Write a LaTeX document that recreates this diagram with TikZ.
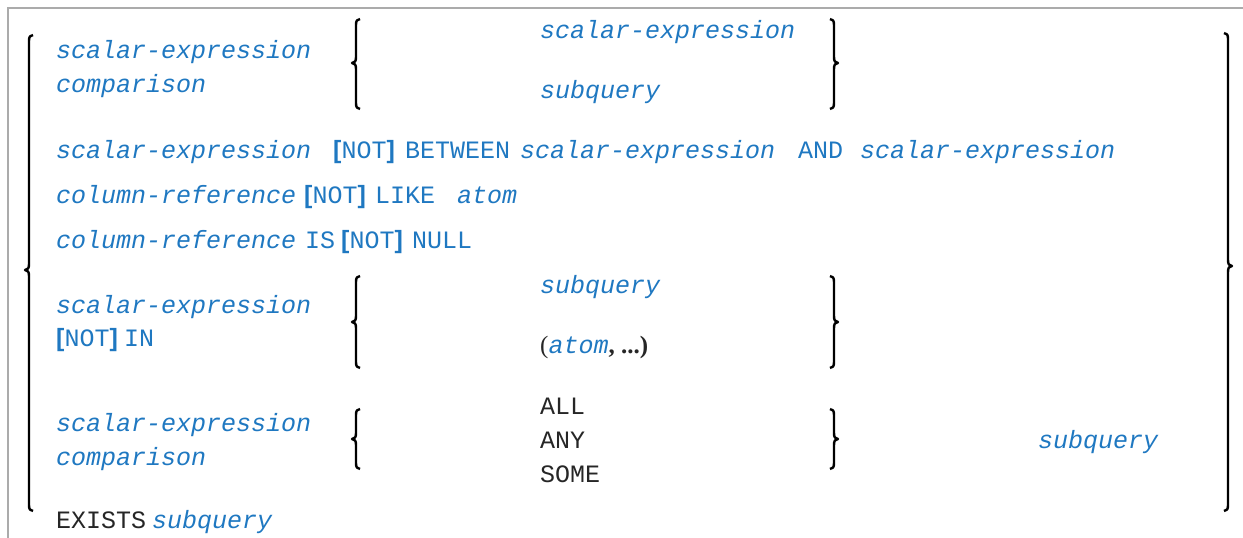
\documentclass[tikz,border=0pt]{standalone}
\usepackage{fontspec}
\setmonofont{Liberation Mono}
\newfontfamily\pncfont{Liberation Serif}
\newfontfamily\brkfont{Liberation Sans}
\definecolor{synblue}{HTML}{1F78C1}
\definecolor{framegray}{HTML}{ABABAB}
\definecolor{litgray}{HTML}{262626}
\newcommand{\synsize}{\fontsize{25}{30}\selectfont}
\newcommand{\nb}[1]{{\brkfont\bfseries #1}}
% tall braces: x, top, cusp, bottom
\newcommand{\synlbrace}[4]{%
  \draw[brc] ({#1+4},#2) .. controls ({#1+1},#2) and (#1,{#2+2}) .. (#1,{#2+6})
    -- (#1,{#3-6}) .. controls (#1,{#3-2}) and ({#1-1},#3) .. ({#1-4},#3)
    .. controls ({#1-1},#3) and (#1,{#3+2}) .. (#1,{#3+6})
    -- (#1,{#4-6}) .. controls (#1,{#4-2}) and ({#1+1},#4) .. ({#1+4},#4);}
\newcommand{\synrbrace}[4]{%
  \draw[brc] ({#1-4},#2) .. controls ({#1-1},#2) and (#1,{#2+2}) .. (#1,{#2+6})
    -- (#1,{#3-6}) .. controls (#1,{#3-2}) and ({#1+1},#3) .. ({#1+4},#3)
    .. controls ({#1+1},#3) and (#1,{#3+2}) .. (#1,{#3+6})
    -- (#1,{#4-6}) .. controls (#1,{#4-2}) and ({#1-1},#4) .. ({#1-4},#4);}

\begin{document}
\begin{tikzpicture}[x=1pt, y=-1pt,
    every node/.style={anchor=mid west, inner sep=0pt, yshift=-6pt, font=\synsize\ttfamily},
    syn/.style={text=synblue, font=\synsize\ttfamily\itshape},
    kw/.style={text=synblue},
    lit/.style={text=litgray},
    brc/.style={line width=2.4pt, line join=round}]
    \useasboundingbox (0,0) rectangle (1243,538);
    \draw[framegray, line width=2pt] (8,538) -- (8,8) -- (1243,8);

    % outer braces
    \synlbrace{29}{35}{270}{511}
    \synrbrace{1228}{33}{266}{511}

    % comparison with subquery
    \node[syn] (se1) at (56,50) {scalar-expression};
    \node[syn] (cmp1) at (56,84) {comparison};
    \synlbrace{356}{19}{63}{109}
    \node[syn] (se2) at (540,30) {scalar-expression};
    \node[syn] (sq1) at (540,90) {subquery};
    \synrbrace{834}{19}{63}{109}

    % between
    \node[syn] (se3) at (56,150) {scalar-expression};
    \node[kw] (not1) at (333,150) {\nb{[}NOT\nb{]}};
    \node[kw] (betw) at (405,150) {BETWEEN};
    \node[syn] (se4) at (520,150) {scalar-expression};
    \node[kw] (and1) at (798,150) {AND};
    \node[syn] (se5) at (860,150) {scalar-expression};

    % like
    \node[syn] (cr1) at (56,195) {column-reference};
    \node[kw] (not2) at (304,195) {\nb{[}NOT\nb{]}};
    \node[kw] (like) at (375,195) {LIKE};
    \node[syn] (atom1) at (457,195) {atom};

    % null
    \node[syn] (cr2) at (56,240) {column-reference};
    \node[kw] (is) at (305,240) {IS};
    \node[kw] (not3) at (341,240) {\nb{[}NOT\nb{]}};
    \node[kw] (null) at (412,240) {NULL};

    % in
    \node[syn] (se6) at (56,305) {scalar-expression};
    \node[kw] (not4) at (56,338) {\nb{[}NOT\nb{]}};
    \node[kw] (in) at (124,338) {IN};
    \synlbrace{356}{276}{322}{368}
    \node[syn] (sq2) at (540,285) {subquery};
    \node[lit] (atoms) at (540,345) {{\pncfont(}{\color{synblue}\itshape atom}{\pncfont\bfseries, ...)}};
    \synrbrace{834}{276}{322}{368}

    % quantified
    \node[syn] (se7) at (56,423) {scalar-expression};
    \node[syn] (cmp2) at (56,457) {comparison};
    \synlbrace{356}{409}{439}{469}
    \node[lit] (all) at (540,406) {ALL};
    \node[lit] (any) at (540,440) {ANY};
    \node[lit] (some) at (540,474) {SOME};
    \synrbrace{834}{409}{439}{469}
    \node[syn] (sq3) at (1038,440) {subquery};

    % exists
    \node[lit] (exists) at (56,520) {EXISTS};
    \node[syn] (sq4) at (152,520) {subquery};
\end{tikzpicture}
\end{document}
